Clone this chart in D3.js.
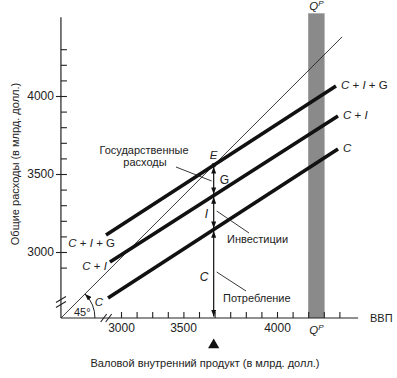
<!DOCTYPE html>
<html>
<head>
<meta charset="utf-8">
<script src="https://cdn.jsdelivr.net/npm/d3@7"></script>
<style>
  body { margin: 0; background: #fff; }
  svg text { font-family: "Liberation Sans", Arial, sans-serif; fill: #222; }
</style>
</head>
<body>
<div id="output"></div>
<script>
// Values (billions of dollars)
var lineNames = ['C', 'C + I', 'C + I + G'];
var lineStartX = [2917, 2929, 2904];
var lineStartY = [2705, 2936, 3109];
var lineEndX = [4391, 4391, 4378];
var lineEndY = [3660, 3872, 4064];

var xTicks = d3.range(3000, 4401, 100);
var yTicks = d3.range(2900, 4301, 100);
var xTickLabels = [3000, 3500, 4000];
var yTickLabels = [3000, 3500, 4000];

var axisStart = [2615, 2577]; // broken-axis corner (gdp, spending)
var axisEnd = [4520, 4505];
var potentialBand = [4200, 4305]; // shaded Q^P column
var bandTop = 4530;
var diagonalEndX = 4417;
var breakY = 2680;
var breakX = 2905;

function renderGraph(){
  var width = 397;
  var height = 378;

  var svg = d3.select('#output')
  .append('svg')
  .attr('width', width)
  .attr('height', height);

  var xScale = d3.scaleLinear().domain([3000, 4000]).range([121, 277]);
  var yScale = d3.scaleLinear().domain([3000, 4000]).range([252, 96]);

  var x0 = xScale(axisStart[0]);
  var y0 = yScale(axisStart[1]);

  var defs = svg.append('defs');
  defs.append('marker')
  .attr('id', 'arrow')
  .attr('viewBox', '0 -3 8 6')
  .attr('refX', 8)
  .attr('refY', 0)
  .attr('markerWidth', 7)
  .attr('markerHeight', 5)
  .attr('markerUnits', 'userSpaceOnUse')
  .attr('orient', 'auto-start-reverse')
  .append('path')
  .attr('d', 'M0,-3L8,0L0,3Z')
  .attr('fill', '#111');

  // Q^P band
  svg.append('rect')
  .attr('x', xScale(potentialBand[0]))
  .attr('y', yScale(bandTop))
  .attr('width', xScale(potentialBand[1]) - xScale(potentialBand[0]))
  .attr('height', y0 - yScale(bandTop))
  .attr('fill', '#8a8a8a');

  // axes
  svg.append('line')
  .attr('x1', x0).attr('y1', y0)
  .attr('x2', x0).attr('y2', yScale(axisEnd[1]))
  .attr('stroke', '#222').attr('stroke-width', 1.2);
  svg.append('line')
  .attr('x1', x0).attr('y1', y0)
  .attr('x2', xScale(axisEnd[0])).attr('y2', y0)
  .attr('stroke', '#222').attr('stroke-width', 1.2);

  var fmt = d3.format('d');

  var yInner = svg.append('g')
  .attr('transform', `translate(${x0}, 0)`)
  .call(d3.axisRight(yScale).tickValues(yTicks).tickSize(6).tickFormat(''));
  var yOuter = svg.append('g')
  .attr('transform', `translate(${x0}, 0)`)
  .call(d3.axisLeft(yScale).tickValues(yTickLabels).tickSize(5).tickPadding(2).tickFormat(fmt));

  var xInner = svg.append('g')
  .attr('transform', `translate(0, ${y0})`)
  .call(d3.axisTop(xScale).tickValues(xTicks).tickSize(6).tickFormat(''));
  var xOuter = svg.append('g')
  .attr('transform', `translate(0, ${y0})`)
  .call(d3.axisBottom(xScale).tickValues(xTickLabels).tickSize(0).tickPadding(5).tickFormat(fmt));

  [yInner, yOuter, xInner, xOuter].forEach(function(g){
    g.select('.domain').remove();
    g.selectAll('line').attr('stroke', '#222').attr('stroke-width', 1.1);
    g.selectAll('text')
    .attr('font-size', 12)
    .style('font-family', '"Liberation Sans", Arial, sans-serif')
    .attr('fill', '#222');
  });
  // the 3500 label sits a bit left of its tick in the original
  xOuter.selectAll('.tick text').filter((d) => d === 3500).attr('dx', -16);

  // axis breaks
  var by = yScale(breakY);
  [-2.5, 2.5].forEach(function(o){
    svg.append('line')
    .attr('x1', x0 - 5).attr('y1', by + o + 3)
    .attr('x2', x0 + 5).attr('y2', by + o - 3)
    .attr('stroke', '#222').attr('stroke-width', 1.1);
  });
  var bx = xScale(breakX);
  [-2.5, 2.5].forEach(function(o){
    svg.append('line')
    .attr('x1', bx + o - 3).attr('y1', y0 + 4)
    .attr('x2', bx + o + 3).attr('y2', y0 - 4)
    .attr('stroke', '#222').attr('stroke-width', 1.1);
  });

  // 45 degree line
  var diag = diagonalEndX - axisStart[0];
  svg.append('line')
  .attr('x1', x0).attr('y1', y0)
  .attr('x2', xScale(diagonalEndX)).attr('y2', yScale(axisStart[1] + diag))
  .attr('stroke', '#222').attr('stroke-width', 0.9);

  // 45 degree arc
  var r = 34;
  var a = Math.PI / 4;
  svg.append('path')
  .attr('d', `M${x0 + r},${y0} A${r},${r} 0 0 0 ${x0 + r * Math.cos(a)},${y0 - r * Math.sin(a)}`)
  .attr('fill', 'none')
  .attr('stroke', '#222')
  .attr('stroke-width', 1)
  .attr('marker-end', 'url(#arrow)');
  svg.append('text')
  .attr('x', x0 + 13).attr('y', y0 - 2)
  .attr('font-size', 11)
  .text('45°');

  // spending lines
  lineNames.forEach(function(name, i){
    svg.append('line')
    .attr('x1', xScale(lineStartX[i])).attr('y1', yScale(lineStartY[i]))
    .attr('x2', xScale(lineEndX[i])).attr('y2', yScale(lineEndY[i]))
    .attr('stroke', '#111')
    .attr('stroke-width', 3.6)
    .attr('stroke-linecap', 'butt');
  });

  function lineLabel(name, x, y, anchor){
    var t = svg.append('text')
    .attr('x', x).attr('y', y)
    .attr('font-size', 11.5)
    .attr('text-anchor', anchor);
    name.split(' ').forEach(function(part, j){
      t.append('tspan')
      .attr('font-style', (part === 'C' || part === 'I') ? 'italic' : 'normal')
      .text((j > 0 ? ' ' : '') + part);
    });
  }
  var leftOffset = [[-5, 8], [-3, 8], [9, 12]];
  lineNames.forEach(function(name, i){
    lineLabel(name, xScale(lineEndX[i]) + 5, yScale(lineEndY[i]) + 3, 'start');
    lineLabel(name, xScale(lineStartX[i]) + leftOffset[i][0], yScale(lineStartY[i]) + leftOffset[i][1], 'end');
  });

  // equilibrium E where C+I+G meets the 45 degree line
  function valueAt(i, x){
    var m = (lineEndY[i] - lineStartY[i]) / (lineEndX[i] - lineStartX[i]);
    return lineStartY[i] + m * (x - lineStartX[i]);
  }
  var m2 = (lineEndY[2] - lineStartY[2]) / (lineEndX[2] - lineStartX[2]);
  var k = axisStart[1] - axisStart[0];
  var eX = (lineStartY[2] - m2 * lineStartX[2] - k) / (1 - m2);
  var ex = xScale(eX);
  var levels = [yScale(eX + k), yScale(valueAt(1, eX)), yScale(valueAt(0, eX)), y0];

  for (var s = 0; s < 3; s++){
    svg.append('line')
    .attr('x1', ex).attr('y1', levels[s] + 1.5)
    .attr('x2', ex).attr('y2', levels[s + 1] - 1.5)
    .attr('stroke', '#111')
    .attr('stroke-width', 1.2)
    .attr('marker-start', 'url(#arrow)')
    .attr('marker-end', 'url(#arrow)');
  }

  svg.append('circle')
  .attr('cx', ex).attr('cy', levels[0])
  .attr('r', 2.2)
  .attr('fill', '#111');
  svg.append('text')
  .attr('x', ex).attr('y', levels[0] - 6)
  .attr('text-anchor', 'middle')
  .attr('font-size', 11.5)
  .attr('font-style', 'italic')
  .text('E');

  // segment letters
  svg.append('text').attr('x', ex + 6).attr('y', (levels[0] + levels[1]) / 2 + 4)
  .attr('font-size', 12).text('G');
  svg.append('text').attr('x', ex - 9).attr('y', (levels[1] + levels[2]) / 2 + 5)
  .attr('font-size', 12).attr('font-style', 'italic').text('I');
  svg.append('text').attr('x', ex - 14).attr('y', 281)
  .attr('font-size', 12).attr('font-style', 'italic').text('C');

  // annotations with leader lines
  function leader(x1, y1, x2, y2){
    svg.append('line')
    .attr('x1', x1).attr('y1', y1).attr('x2', x2).attr('y2', y2)
    .attr('stroke', '#222').attr('stroke-width', 0.9);
  }
  svg.append('text').attr('x', 144).attr('y', 154)
  .attr('text-anchor', 'middle').attr('font-size', 11).text('Государственные');
  svg.append('text').attr('x', 145).attr('y', 166)
  .attr('text-anchor', 'middle').attr('font-size', 11).text('расходы');
  leader(176, 167, ex - 2, 181);

  svg.append('text').attr('x', 227).attr('y', 243)
  .attr('font-size', 11).text('Инвестиции');
  leader(ex + 3, 211, 249, 233);

  svg.append('text').attr('x', 223).attr('y', 302)
  .attr('font-size', 11).text('Потребление');
  leader(ex + 3, 272, 246, 291);

  // Q^P labels
  var qx = (xScale(potentialBand[0]) + xScale(potentialBand[1])) / 2;
  [10, 334].forEach(function(yy){
    var t = svg.append('text')
    .attr('x', qx).attr('y', yy)
    .attr('text-anchor', 'middle')
    .attr('font-size', 11.5)
    .attr('font-style', 'italic');
    t.append('tspan').text('Q');
    t.append('tspan').attr('font-size', 8).attr('dy', -4).text('P');
  });

  svg.append('text').attr('x', 370).attr('y', 322)
  .attr('font-size', 11).text('ВВП');

  // equilibrium marker under the axis
  svg.append('path')
  .attr('d', d3.symbol().type(d3.symbolTriangle).size(55)())
  .attr('transform', `translate(${ex}, 345)`)
  .attr('fill', '#111');

  // axis titles
  svg.append('text')
  .attr('transform', 'translate(19, 164) rotate(-90)')
  .attr('text-anchor', 'middle')
  .attr('font-size', 11)
  .text('Общие расходы (в млрд. долл.)');
  svg.append('text')
  .attr('x', 205).attr('y', 367)
  .attr('text-anchor', 'middle')
  .attr('font-size', 11)
  .text('Валовой внутренний продукт (в млрд. долл.)');
}

document.addEventListener('DOMContentLoaded', renderGraph);
</script>
</body>
</html>
